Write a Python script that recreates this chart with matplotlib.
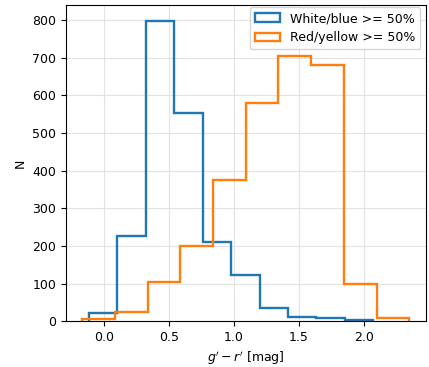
import matplotlib.pyplot as plt
import numpy as np

plt.rcParams['font.size'] = 9

# bin edges
blue_edges = [-0.117, 0.102, 0.322, 0.541, 0.760, 0.979, 1.198, 1.418, 1.637, 1.856, 2.075]
blue_counts = [21, 225, 797, 553, 210, 122, 35, 12, 8, 3]

orange_edges = [-0.168, 0.084, 0.336, 0.588, 0.840, 1.092, 1.344, 1.596, 1.848, 2.100, 2.352]
orange_counts = [6, 23, 105, 200, 375, 580, 705, 680, 100, 7]

fig = plt.figure(figsize=(4.29, 3.67), dpi=100)
ax = fig.add_axes([0.154, 0.125, 0.838, 0.861])

ax.hist(blue_edges[:-1], bins=blue_edges, weights=blue_counts, histtype='step',
        linewidth=1.7, color='#1f77b4', label='White/blue >= 50%')
ax.hist(orange_edges[:-1], bins=orange_edges, weights=orange_counts, histtype='step',
        linewidth=1.7, color='#ff7f0e', label='Red/yellow >= 50%')

ax.grid(True, color='#dddddd', linewidth=0.8, alpha=0.8)
ax.set_axisbelow(True)
ax.set_ylim(0, 840)
ax.set_xticks([0.0, 0.5, 1.0, 1.5, 2.0])
ax.set_xlabel(r"$g' - r'$ [mag]")
ax.set_ylabel('N')
ax.legend(loc='upper right', bbox_to_anchor=(0.99, 1.0), borderaxespad=0.15)

fig.savefig('out.png', dpi=100)
